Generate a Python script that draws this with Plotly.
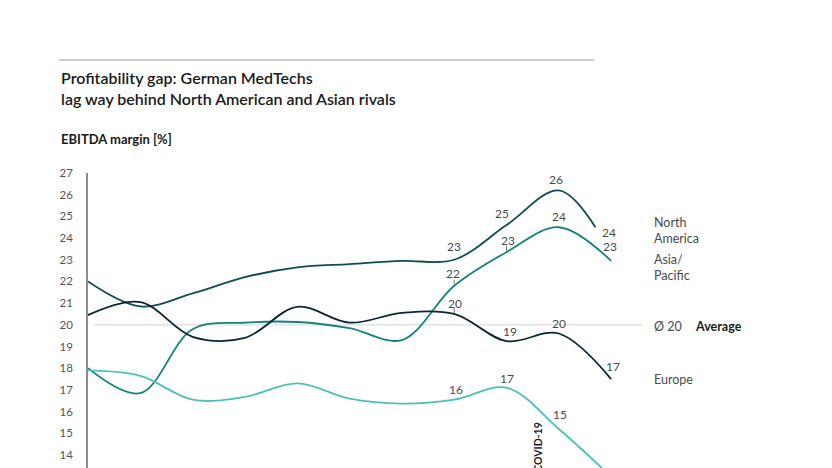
import plotly.graph_objects as go

# ---------------- data ----------------
years = [2011, 2012, 2013, 2014, 2015, 2016, 2017, 2018, 2019, 2020, 2021]
na_years = [2011, 2012, 2013, 2014, 2015, 2016, 2017, 2018, 2019, 2020, 2020.7]
north_america = [22.0, 20.85, 21.45, 22.2, 22.65, 22.8, 22.95, 23.0, 24.6, 26.2, 24.5]
asia_pacific = [18.0, 16.85, 19.8, 20.1, 20.13, 19.85, 19.3, 21.8, 23.35, 24.5, 22.95]
europe = [20.45, 21.05, 19.45, 19.4, 20.83, 20.1, 20.55, 20.5, 19.25, 19.6, 17.5]
germany = [17.9, 17.65, 16.55, 16.68, 17.3, 16.6, 16.37, 16.55, 17.1, 15.2, 13.0]
average = 20
y_ticks = [14, 15, 16, 17, 18, 19, 20, 21, 22, 23, 24, 25, 26, 27]

FONT = "Lato"
C_NA = "#0f4c4e"
C_EU = "#0b2630"
C_AP = "#15807e"
C_DE = "#4cc2b4"
GRAY = "#4a4a4a"

OFF = 8  # page body margin
W, H = 832 - OFF, 468 - OFF
L, R, T, B = 88 - OFF, 190, 173 - OFF, 0
PW, PH = W - L - R, H - T - B


def px(x):
    return (x - OFF - L) / PW


def py(y):
    return (H - B - (y - OFF)) / PH


fig = go.Figure()
series = [
    (na_years, north_america, C_NA),
    (years, asia_pacific, C_AP),
    (years, europe, C_EU),
    (years, germany, C_DE),
]
for xs, ys, c in series:
    fig.add_trace(go.Scatter(
        x=xs, y=ys, mode="lines",
        line=dict(color=c, width=1.8, shape="spline", smoothing=1.0),
        hoverinfo="skip", showlegend=False, cliponaxis=True,
    ))

ann = []


def value_label(xv, yv, text, dx=0, dy=11):
    ann.append(dict(x=xv, y=yv, xref="x", yref="y", text=text, showarrow=False,
                    xshift=dx, yshift=dy, font=dict(family=FONT, size=12, color=GRAY)))


def idx(y):
    return years.index(y)


# North America labels
value_label(2018, north_america[idx(2018)], "23", 0, 13)
value_label(2019, north_america[idx(2019)], "25", -5, 12)
value_label(2020, north_america[idx(2020)], "26", -3, 11)
value_label(na_years[-1], north_america[-1], "24", 14, -5)
# Asia/Pacific
value_label(2018, asia_pacific[idx(2018)], "22", -1, 12)
value_label(2019, asia_pacific[idx(2019)], "23", 1, 12)
value_label(2020, asia_pacific[idx(2020)], "24", 0, 11)
value_label(2021, asia_pacific[idx(2021)], "23", -1, 14)
# Europe
value_label(2018, europe[idx(2018)], "20", 1, 10)
value_label(2019, europe[idx(2019)], "19", 3, 10)
value_label(2020, europe[idx(2020)], "20", 0, 10)
value_label(2021, europe[idx(2021)], "17", 2, 13)
# Germany
value_label(2018, germany[idx(2018)], "16", 2, 10)
value_label(2019, germany[idx(2019)], "17", 0, 9)
value_label(2020, germany[idx(2020)], "15", 1, 14)
value_label(2021, germany[idx(2021)], "13", 2, 12)

# COVID-19 marker text
ann.append(dict(x=2019.61, y=14.4, xref="x", yref="y", text="<b>COVID-19</b>",
                showarrow=False, textangle=-90,
                font=dict(family=FONT, size=10.5, color="#1a1a1a")))

# right-hand series labels
for text, y in [("North<br>America", 230), ("Asia/<br>Pacific", 267), ("Europe", 379)]:
    ann.append(dict(x=px(652), y=py(y), xref="paper", yref="paper", text=text,
                    showarrow=False, xanchor="left", yanchor="middle", align="left",
                    font=dict(family=FONT, size=12.5, color=GRAY)))
ann.append(dict(x=px(652), y=py(326), xref="paper", yref="paper", text="Ø " + str(average),
                showarrow=False, xanchor="left", yanchor="middle",
                font=dict(family=FONT, size=12.5, color=GRAY)))
ann.append(dict(x=px(693), y=py(326), xref="paper", yref="paper", text="<b>Average</b>",
                showarrow=False, xanchor="left", yanchor="middle",
                font=dict(family=FONT, size=12.5, color="#1a1a1a")))

# titles
ann.append(dict(x=px(59), y=py(88), xref="paper", yref="paper",
                text="Profitability gap: German MedTechs<br>lag way behind North American and Asian rivals",
                showarrow=False, xanchor="left", yanchor="middle", align="left",
                font=dict(family=FONT, size=16, color="#1a1a1a", weight=600)))
ann.append(dict(x=px(59), y=py(139), xref="paper", yref="paper",
                text="<b>EBITDA margin [%]</b>",
                showarrow=False, xanchor="left", yanchor="middle",
                font=dict(family=FONT, size=13, color="#1a1a1a")))

shapes = [
    dict(type="line", xref="paper", yref="paper", x0=px(59), x1=px(594), y0=py(60), y1=py(60),
         line=dict(color="#9a9a9a", width=1.2)),
    dict(type="line", xref="x", yref="y", x0=2011.13, x1=2021.59, y0=average, y1=average,
         line=dict(color="#e6e6e6", width=2), layer="below"),
]
# small connector ticks under some labels
for xv, yv in [(2018, asia_pacific[idx(2018)]), (2019, asia_pacific[idx(2019)]), (2018, europe[idx(2018)])]:
    shapes.append(dict(type="line", xref="x", yref="y", ysizemode="pixel", yanchor=yv,
                       x0=xv, x1=xv, y0=1, y1=6, line=dict(color="#777777", width=1)))

fig.update_layout(
    width=W, height=H,
    margin=dict(l=L, r=R, t=T, b=B, pad=0),
    paper_bgcolor="white", plot_bgcolor="white",
    xaxis=dict(range=[2011, 2021.59], visible=False, fixedrange=True),
    yaxis=dict(range=[13.4, 27], tickvals=y_ticks, ticktext=[str(v) for v in y_ticks],
               showgrid=False, zeroline=False, showline=True, linecolor="#8c8c8c", linewidth=1.5,
               ticks="outside", ticklen=11, tickcolor="rgba(0,0,0,0)",
               tickfont=dict(family=FONT, size=11.5, color="#555555")),
    annotations=ann, shapes=shapes,
    showlegend=False,
)

fig.write_html("out.html")
